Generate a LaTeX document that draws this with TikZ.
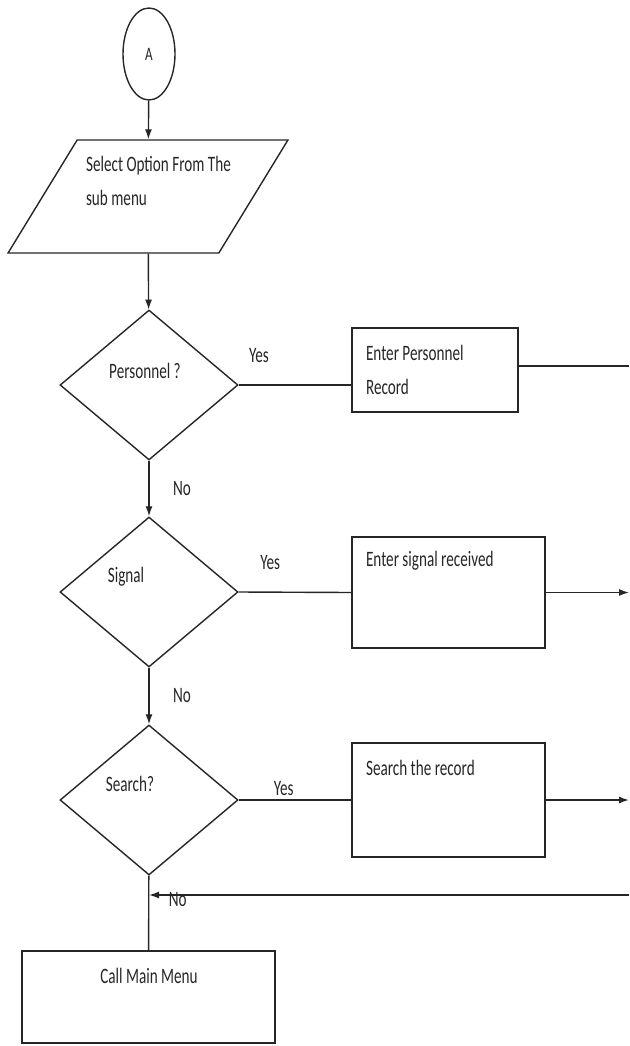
\documentclass[tikz,border=0pt]{standalone}
\usepackage{fontspec}
\setmainfont{Carlito}[FakeStretch=0.69]
\usetikzlibrary{shapes.geometric, arrows.meta}

\begin{document}
\begin{tikzpicture}[x=1pt, y=-1pt, color=black!85, line width=1.4pt,
                    >={Latex[length=10pt, width=7pt]},
                    connector/.style={ellipse, draw, inner sep=0pt,
                                      minimum width=52pt, minimum height=92pt},
                    io/.style={trapezium, draw, trapezium stretches=true,
                               trapezium left angle=64, trapezium right angle=116,
                               minimum width=280pt, minimum height=113pt},
                    decision/.style={diamond, draw, inner sep=0pt,
                                     minimum width=178pt, minimum height=150pt},
                    process/.style={rectangle, draw, inner sep=0pt},
                    font=\fontsize{22}{34}\selectfont]
  \useasboundingbox (0, 0) rectangle (629, 1046);

  % Shapes.
  \node at (149, 54) [connector, name=ConnectorA] {\fontsize{19}{20}\selectfont A};
  \node at (148, 196.5) [io, name=SelectOption] {};
  \node at (149, 385) [decision, name=PersonnelQ] {};
  \node at (149, 592) [decision, name=SignalQ] {};
  \node at (149, 800) [decision, name=SearchQ] {};
  \node at (435, 370) [process, minimum width=166pt, minimum height=84pt, name=EnterPersonnel] {};
  \node at (448.5, 592.5) [process, minimum width=193pt, minimum height=111pt, name=EnterSignal] {};
  \node at (448.5, 800) [process, minimum width=193pt, minimum height=114pt, name=SearchRecord] {};
  \node at (148.5, 997) [process, minimum width=253pt, minimum height=92pt, name=CallMainMenu] {};

  % Texts.
  \node at (82, 181) [anchor=west, align=left, name=SelectText] {Select Option From The\\sub menu};
  \node at (145, 371) [name=PersonnelText] {Personnel ?};
  \node at (126, 577) [name=SignalText] {Signal};
  \node at (130, 784) [name=SearchText] {Search?};
  \node at (362, 370) [anchor=west, align=left, name=EnterPersonnelText] {Enter Personnel\\Record};
  \node at (362, 561) [anchor=west, name=EnterSignalText] {Enter signal received};
  \node at (362, 768) [anchor=west, name=SearchRecordText] {Search the record};
  \node at (149, 976) [name=CallMainMenuText] {Call Main Menu};

  % Free ends at the right edge.
  \coordinate (PersonnelOut) at (629, 366);
  \coordinate (SignalOut) at (629, 592.5);
  \coordinate (SearchOut) at (629, 800);
  \coordinate (ReturnIn) at (629, 895);

  % Main flow.
  \draw [->] (ConnectorA) -- (SelectOption);
  \draw [->] (SelectOption) -- (PersonnelQ);
  \draw [->] (PersonnelQ)
             to node [right, xshift=20pt] {No}
             (SignalQ);
  \draw [->] (SignalQ)
             to node [right, xshift=20pt] {No}
             (SearchQ);
  \draw [  ] (SearchQ) -- (CallMainMenu);

  % Yes branches.
  \draw [  ] (PersonnelQ.east)
             to node [above, pos=0.18, yshift=18pt] {Yes}
             (PersonnelQ.east -| EnterPersonnel.west);
  \draw [  ] (SignalQ.east)
             to node [above, pos=0.28, yshift=18pt] {Yes}
             (EnterSignal.west);
  \draw [  ] (SearchQ.east)
             to node [above, pos=0.40, yshift=0pt] {Yes}
             (SearchRecord.west);
  \draw [  ] (EnterPersonnel.east |- PersonnelOut) -- (PersonnelOut);
  \draw [->] (EnterSignal.east) -- (SignalOut);
  \draw [->] (SearchRecord.east) -- (SearchOut);

  % Return.
  \draw [->] (ReturnIn)
             to node [pos=0.94, yshift=-5pt] {No}
             (ReturnIn -| SearchQ.south);
\end{tikzpicture}
\end{document}
